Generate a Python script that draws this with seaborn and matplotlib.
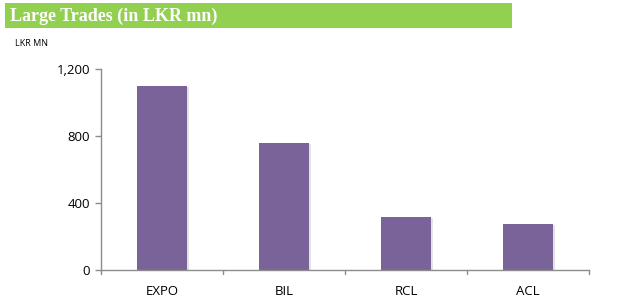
import pandas as pd
import seaborn as sns
import matplotlib.pyplot as plt
import matplotlib.patheffects as pe
from matplotlib.patches import Rectangle

# Chart data
companies = ['EXPO', 'BIL', 'RCL', 'ACL']
values = [1098, 758, 317, 275]
y_ticks = [0, 400, 800, 1200]
y_tick_labels = ['0', '400', '800', '1,200']

df = pd.DataFrame({'company': companies, 'value': values})

sns.set_theme(style='white')
plt.rcParams['font.family'] = ['Open Sans', 'DejaVu Sans']

fig = plt.figure(figsize=(6.35, 3.0), dpi=100)
ax = fig.add_axes([101 / 635, 30 / 300, 488 / 635, 201 / 300])

sns.barplot(data=df, x='company', y='value', color='#7a6399', width=0.41,
            saturation=1, ax=ax)

# soft shadow on the bars
for bar in ax.patches:
    bar.set_linewidth(0)
    bar.set_path_effects([pe.SimplePatchShadow(offset=(1.5, -1), shadow_rgbFace='#c8c8c8', alpha=0.5),
                          pe.Normal()])

ax.set_ylim(0, 1200)
ax.set_xlim(-0.5, len(companies) - 0.5)
ax.set_yticks(y_ticks)
ax.set_yticklabels(y_tick_labels)
ax.set_xlabel('')
ax.set_ylabel('')

for side in ['top', 'right']:
    ax.spines[side].set_visible(False)
for side in ['left', 'bottom']:
    ax.spines[side].set_color('#8c8c8c')
    ax.spines[side].set_linewidth(1)

ax.tick_params(axis='y', left=True, length=4, width=1, color='#8c8c8c',
               labelsize=9.5, labelcolor='black', pad=4)
ax.tick_params(axis='x', bottom=False, labelsize=9.5, labelcolor='black', pad=5)

# boundary ticks between categories on the x axis
for b in [i - 0.5 for i in range(len(companies) + 1)]:
    ax.plot([b, b], [0, -0.018], transform=ax.get_xaxis_transform(),
            color='#8c8c8c', lw=1, clip_on=False)

# header band
fig.patches.append(Rectangle((5 / 635, 1 - 28 / 300), 507 / 635, 25 / 300,
                             transform=fig.transFigure, facecolor='#92d050',
                             edgecolor='none', zorder=0))
fig.text(10 / 635, 1 - 16 / 300, 'Large Trades (in LKR mn)', color='white',
         family='Liberation Serif', fontweight='bold', fontsize=13, va='center')
fig.text(15 / 635, 1 - 43 / 300, 'LKR MN', fontsize=6.5, va='center', color='black')

fig.savefig('out.png', dpi=100)
